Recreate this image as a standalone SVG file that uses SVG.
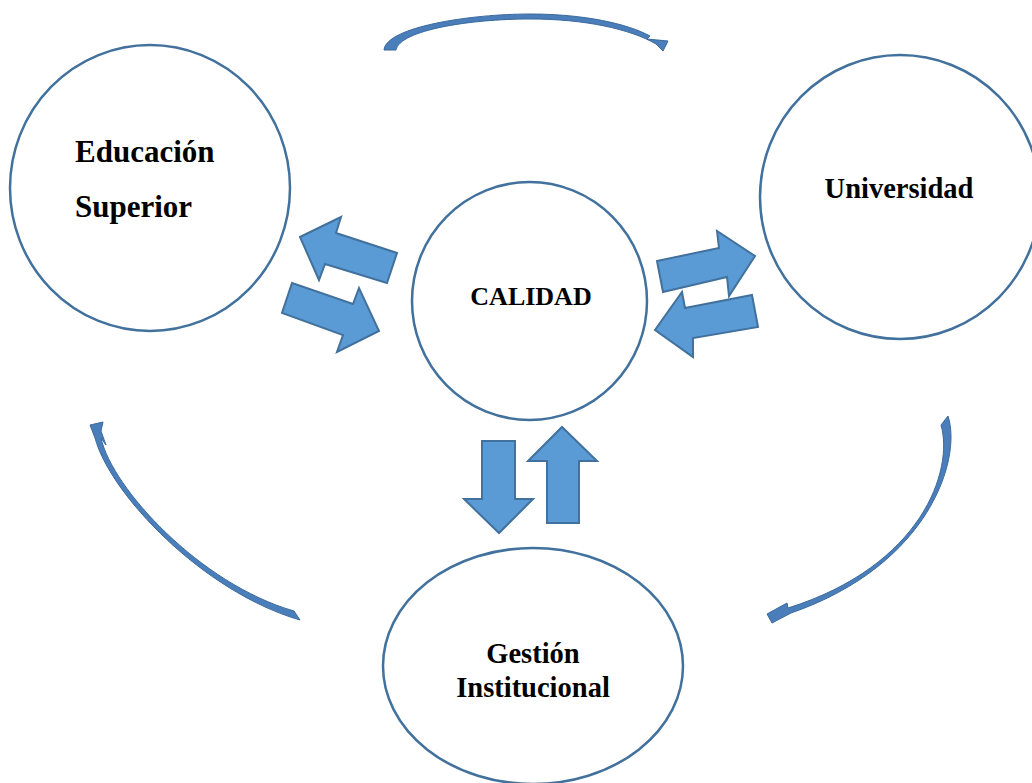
<svg xmlns="http://www.w3.org/2000/svg" width="1032" height="783" viewBox="0 0 1032 783">
<style>
.node{fill:#ffffff;stroke:#41719c;stroke-width:2.5}
.lbl{font-family:"Liberation Serif","Times New Roman",serif;font-weight:bold;fill:#000}
.blk{fill:#5b9bd5;stroke:#41719c;stroke-width:2;stroke-linejoin:miter}
.crv{fill:#4a7ebb;stroke:#3b6a9c;stroke-width:1;stroke-linejoin:round}
</style>
<rect width="1032" height="783" fill="#ffffff"/>
<g id="educacion-superior">
<ellipse class="node" cx="150" cy="188" rx="140" ry="143"/>
<text class="lbl" x="75" y="162" font-size="31">Educación</text>
<text class="lbl" x="75" y="217" font-size="31">Superior</text>
</g>
<g id="universidad">
<ellipse class="node" cx="900" cy="197" rx="140" ry="142"/>
<text class="lbl" x="899" y="198" font-size="28.5" text-anchor="middle">Universidad</text>
</g>
<g id="calidad">
<ellipse class="node" cx="529.5" cy="301" rx="117.5" ry="119"/>
<text class="lbl" x="531" y="305" font-size="26" text-anchor="middle">CALIDAD</text>
</g>
<g id="gestion-institucional">
<ellipse class="node" cx="533" cy="666" rx="150" ry="118"/>
<text class="lbl" x="533" y="663" font-size="28.5" text-anchor="middle">Gestión</text>
<text class="lbl" x="533" y="697" font-size="28.5" text-anchor="middle">Institucional</text>
</g>
<g id="connectors">
<polygon class="blk" points="300,237 341,217 336,233 397,253 387,283 325,264 319,280"/>
<polygon class="blk" points="292,283 353,304 359,288 379,331 337,352 343,335 282,313"/>
<polygon class="blk" points="657,261 719,248 717,231 755,256 729,296 727,277 663,292"/>
<polygon class="blk" points="752,295 758,327 693,338 693,357 655,330 682,292 685,308"/>
<polygon class="blk" points="482,441 515,441 515,499 533,499 499,533 464,499 482,499"/>
<polygon class="blk" points="547,523 579,523 579,461 597,461 562,427 528,461 547,461"/>
<path class="crv" d="M384,50 C386,27 470,14 530,14 C585,14 628,24 650,36 L647,39 L668,41 L663,51 L656,44 C630,29 585,19 530,19 C470,19 400,30 396,50 Z"/>
<path class="crv" d="M90,425 L103,422 L101,431 L106,445 L101,438 C112,488 200,584 294,611 L300,620 C203,592 110,494 95,438 Z"/>
<path class="crv" d="M941,425 L948,416 C962,458 930,565 791,613 L772,623 L767,614 L787,603 L788,608 C922,566 954,470 941,425 Z"/>
</g>
</svg>
